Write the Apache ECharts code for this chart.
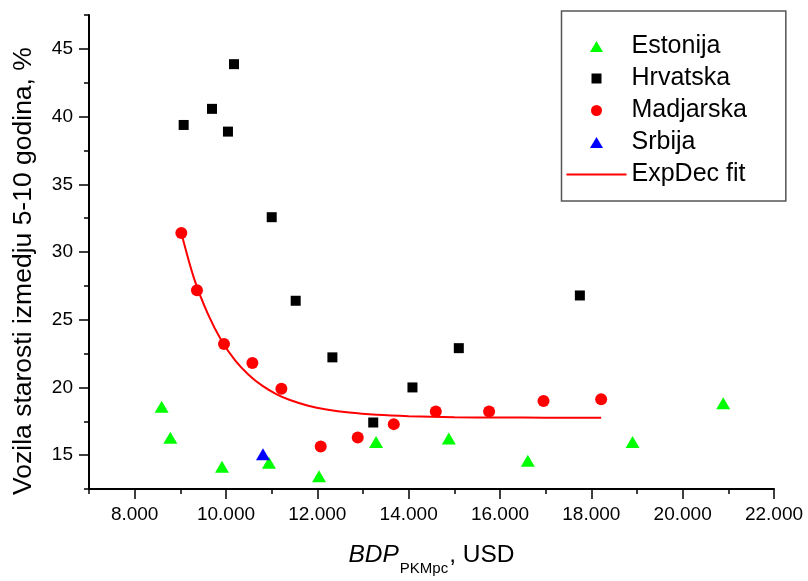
<!DOCTYPE html>
<html><head><meta charset="utf-8">
<script src="https://cdn.jsdelivr.net/npm/echarts@6/dist/echarts.min.js"></script>
<style>html,body{margin:0;padding:0;background:#fff}#c{width:808px;height:581px}</style>
</head><body><div id="c"></div>
<script>
// ---- data ----
const estonijaX = [8591, 8781, 9912, 10941, 12037, 13286, 14879, 16609, 18903, 20888];
const estonijaY = [18.58, 16.29, 14.14, 14.43, 13.44, 15.97, 16.22, 14.58, 15.97, 18.83];
const hrvatskaX = [9073, 9693, 10043, 10175, 11001, 11526, 12330, 13224, 14083, 15098, 17749];
const hrvatskaY = [39.38, 40.57, 38.89, 43.87, 32.57, 26.4, 22.22, 17.41, 20.0, 22.9, 26.79];
const madjarskaX = [9022, 9364, 9956, 10578, 11213, 12074, 12885, 13674, 14594, 15761, 16953, 18215];
const madjarskaY = [31.4, 27.17, 23.2, 21.81, 19.9, 15.63, 16.31, 17.29, 18.22, 18.22, 19.0, 19.12];
const srbijaX = [10810];
const srbijaY = [15.07];
const fitX = [9022, 9300, 9600, 9900, 10200, 10500, 10800, 11100, 11400, 11800, 12200, 12700, 13300, 14000, 15000, 16000, 17000, 18215];
const fitY = [31.4, 28.05, 25.45, 23.47, 22.0, 20.92, 20.11, 19.51, 19.07, 18.65, 18.37, 18.14, 17.98, 17.88, 17.8, 17.78, 17.77, 17.77];
const xTickValues = [8000, 10000, 12000, 14000, 16000, 18000, 20000, 22000];
const xTickLabels = ['8.000', '10.000', '12.000', '14.000', '16.000', '18.000', '20.000', '22.000'];
const yTickValues = [15, 20, 25, 30, 35, 40, 45];
const yTickLabels = ['15', '20', '25', '30', '35', '40', '45'];
const seriesNames = ['Estonija', 'Hrvatska', 'Madjarska', 'Srbija', 'ExpDec fit'];

const zip = (a, b) => a.map((v, i) => [v, b[i]]);
const FONT = 'Arial, "Liberation Sans", sans-serif';
const axisLineStyle = { color: '#000', width: 2 };
const tickStyle = { color: '#000', width: 1.5 };

// legend icons (kept in a 14x14 box so they keep their own size)
const ICON_TRI = 'path://M0,0M14,14M0.5,12.5L7,1.5L13.5,12.5Z';
const ICON_RECT = 'path://M0,0M14,14M2,2H12V12H2Z';
const ICON_CIRC = 'path://M0,0M14,14M12.5,7A5.5,5.5,0,1,1,1.5,7A5.5,5.5,0,1,1,12.5,7Z';

const chart = echarts.init(document.getElementById('c'), null, { renderer: 'canvas' });
chart.setOption({
  animation: false,
  backgroundColor: '#fff',
  textStyle: { fontFamily: FONT },
  grid: { left: 89, right: 34, top: 15, bottom: 88, containLabel: false },
  legend: {
    orient: 'vertical', left: 561.5, top: 11,
    padding: [23, 39, 14, 4],
    itemWidth: 60, itemHeight: 14, itemGap: 7,
    symbolKeepAspect: true,
    borderColor: '#555', borderWidth: 1.5,
    textStyle: { fontSize: 25, color: '#000', fontFamily: FONT },
    data: [
      { name: seriesNames[0], icon: ICON_TRI },
      { name: seriesNames[1], icon: ICON_RECT },
      { name: seriesNames[2], icon: ICON_CIRC },
      { name: seriesNames[3], icon: ICON_TRI },
      { name: seriesNames[4], itemStyle: { color: 'rgba(0,0,0,0)', opacity: 0, borderWidth: 0 } }
    ]
  },
  xAxis: [
    {
      type: 'value', min: 7000, max: 22000, interval: 1000, position: 'bottom',
      axisLine: { onZero: false, lineStyle: axisLineStyle },
      axisTick: { show: true, length: 5, lineStyle: tickStyle },
      axisLabel: { show: false },
      splitLine: { show: false },
      name: '{i|BDP}{s|PKMpc}{n|, USD}',
      nameLocation: 'middle', nameGap: 54,
      nameTextStyle: {
        rich: {
          i: { fontSize: 24.5, fontStyle: 'italic', lineHeight: 24, verticalAlign: 'top', color: '#000', fontFamily: FONT },
          s: { fontSize: 15, lineHeight: 15, padding: [18, 1, 0, 1], verticalAlign: 'top', color: '#000', fontFamily: FONT },
          n: { fontSize: 24.5, lineHeight: 24, verticalAlign: 'top', color: '#000', fontFamily: FONT }
        }
      }
    },
    {
      type: 'value', min: 7000, max: 22000, position: 'bottom',
      axisLine: { show: false, onZero: false },
      axisTick: { show: true, length: 10, lineStyle: tickStyle, customValues: xTickValues },
      axisLabel: {
        customValues: xTickValues, margin: 16, fontSize: 19, color: '#000', fontFamily: FONT,
        formatter: v => xTickLabels[xTickValues.indexOf(v)] || ''
      },
      splitLine: { show: false }
    }
  ],
  yAxis: [
    {
      type: 'value', min: 12.5, max: 47.5, interval: 2.5, position: 'left',
      axisLine: { onZero: false, lineStyle: axisLineStyle },
      axisTick: { show: true, length: 5, lineStyle: tickStyle },
      axisLabel: { show: false },
      splitLine: { show: false },
      name: 'Vozila starosti izmedju 5-10 godina, %',
      nameLocation: 'middle', nameGap: 52, nameRotate: 90,
      nameTextStyle: { fontSize: 26.5, color: '#000', fontFamily: FONT, padding: [0, 38, 0, 0] }
    },
    {
      type: 'value', min: 12.5, max: 47.5, position: 'left',
      axisLine: { show: false, onZero: false },
      axisTick: { show: true, length: 10, lineStyle: tickStyle, customValues: yTickValues },
      axisLabel: {
        customValues: yTickValues, margin: 16, fontSize: 19, color: '#000', fontFamily: FONT,
        formatter: v => yTickLabels[yTickValues.indexOf(v)] || ''
      },
      splitLine: { show: false }
    }
  ],
  series: [
    { name: seriesNames[0], type: 'scatter', data: zip(estonijaX, estonijaY), symbol: 'triangle', symbolSize: [14, 12], itemStyle: { color: '#00ff00', opacity: 1 }, z: 3 },
    { name: seriesNames[1], type: 'scatter', data: zip(hrvatskaX, hrvatskaY), symbol: 'rect', symbolSize: 10, itemStyle: { color: '#000000', opacity: 1 }, z: 3 },
    { name: seriesNames[2], type: 'scatter', data: zip(madjarskaX, madjarskaY), symbol: 'circle', symbolSize: 12, itemStyle: { color: '#ff0000', opacity: 1 }, z: 3 },
    { name: seriesNames[3], type: 'scatter', data: zip(srbijaX, srbijaY), symbol: 'triangle', symbolSize: [14, 12], itemStyle: { color: '#0000ff', opacity: 1 }, z: 3 },
    { name: seriesNames[4], type: 'line', data: zip(fitX, fitY), symbol: 'none', showSymbol: false, smooth: 0.3,
      lineStyle: { color: '#ff0000', width: 2 }, itemStyle: { color: '#ff0000' }, z: 2 }
  ]
});
</script></body></html>
